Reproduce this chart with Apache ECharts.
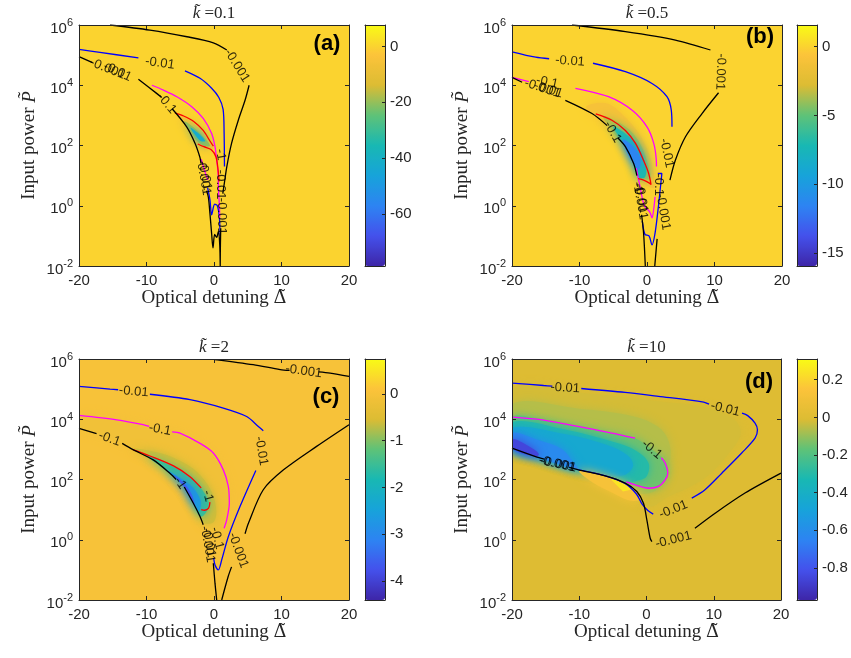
<!DOCTYPE html>
<html><head><meta charset="utf-8">
<style>html,body{margin:0;padding:0;background:#fff}#c{width:851px;height:658px}</style>
<script src="https://cdn.jsdelivr.net/npm/echarts@6/dist/echarts.min.js"></script>
</head><body><div id="c"></div>
<script>
// ---------- data (x = optical detuning, y = log10 of input power) ----------
const panelTitles = ['0.1', '0.5', '2', '10'];
const panelTags = ['(a)', '(b)', '(c)', '(d)'];

// colourbar ranges and ticks
const aBarRange = [-78.6, 7.7];  const aBarTicks = [-60, -40, -20, 0];
const bBarRange = [-15.96, 1.58]; const bBarTicks = [-15, -10, -5, 0];
const cBarRange = [-4.41, 0.75]; const cBarTicks = [-4, -3, -2, -1, 0];
const dBarRange = [-0.97, 0.31]; const dBarTicks = [-0.8, -0.6, -0.4, -0.2, 0, 0.2];

// ---- panel (a) ----
const aBlack = [[-15.4,6.0],[-9.5,5.83],[-4.0,5.61],[-0.1,5.41],[1.9,5.17], null,
  [5.2,4.0],[4.6,3.5],[3.6,2.84],[2.6,2.07],[1.9,1.3],[1.5,0.7],[1.3,0.4], null,
  [1.0,-0.75],[0.95,-1.3],[0.92,-2.0], null,
  [-20,4.95],[-18,4.75], null,
  [-11.2,4.2],[-8.5,3.73],[-7.8,3.6], null,
  [-6.2,3.22],[-4.05,2.62],[-2.8,2.07],[-2.1,1.62],[-1.9,1.4], null,
  [-1.1,0.5],[-0.84,0.29],[-0.6,-0.26],[-0.35,-0.93],[-0.15,-1.4],[0.1,-0.95],[0.4,-1.05],[0.65,-0.85],[0.85,-1.3],[0.92,-2.0]];
const aBlue = [[-20,5.19],[-16.9,5.09],[-11.2,4.91], null,
  [-4.3,4.48],[-2.07,4.23],[-0.35,3.9],[0.7,3.6],[1.35,3.2],[1.5,2.4],[1.55,1.3], null,
  [-0.95,0.6],[-0.6,0.2],[-0.35,-0.3],[0.1,0.05],[0.5,0.0],[0.8,-0.4],[0.9,-1.0]];
const aMagenta = [[-9.2,4.0],[-7.5,3.84],[-5.5,3.62],[-3.3,3.29],[-1.6,2.9],[-0.35,2.4],[0.15,1.96],[0.35,1.6],[0.6,1.1],[0.65,0.6],[0.8,0.0],[0.85,-0.4], null,
  [-1.9,1.55],[-1.3,1.1],[-0.9,0.85]];
const aRed = [[-5.8,3.08],[-4.5,2.98],[-3.0,2.8],[-1.6,2.5],[-0.6,2.15],[-0.1,1.98], null,
  [-2.4,2.05],[-1.5,1.96],[-0.4,1.86],[0.3,1.62],[0.6,1.2],[0.75,0.8]];
const aLabels = [[3.4,4.65,'-0.001',-58],[-8.0,4.73,'-0.01',-8],[-15.8,4.55,'-0.001',-22],[-14.3,4.45,'-0.01',-25],
  [-7.0,3.4,'-0.1',-50],[-1.55,0.95,'-0.001',-80],[-1.35,1.0,'-0.01',-80],[0.95,1.7,'-1',-80],
  [1.0,0.7,'-0.01',-90],[1.1,-0.35,'-0.001',-90]];
const aFillLevels = [0, -4, -20, -42];
const aFillShapes = [
  [[-20,-2],[20,-2],[20,6],[-20,6]],
  [[-5.6,3.05],[-3.6,2.82],[-2.0,2.5],[-0.8,2.15],[-0.1,1.92],[-1.2,1.85],[-2.4,1.98],[-3.4,2.35],[-4.4,2.72]],
  [[-4.4,2.8],[-3.0,2.6],[-1.6,2.3],[-0.6,2.0],[-1.4,1.98],[-2.5,2.15],[-3.4,2.45]],
  [[-3.5,2.6],[-2.4,2.42],[-1.3,2.15],[-2.0,2.15],[-2.9,2.38]]];

// ---- panel (b) ----
const bBlack = [[-11.1,6.0],[-3.2,5.78],[4.2,5.5],[9.4,5.17], null,
  [10.6,3.75],[8.15,3.06],[5.7,2.29],[4.2,1.51],[3.4,0.85], null,
  [1.5,-1.1],[1.15,-2.0], null,
  [-20,4.26],[-18.5,4.1], null,
  [-12.1,3.5],[-8.15,3.06],[-5.9,2.66], null,
  [-4.3,2.25],[-3.2,1.96],[-1.98,1.4],[-1.5,1.0], null,
  [-0.8,-0.3],[-0.5,-0.93],[-0.25,-2.0]];
const bBlue = [[-20,5.11],[-16.5,4.93],[-14.5,4.88], null,
  [-8.0,4.73],[-3.2,4.45],[0.74,4.06],[2.96,3.62],[3.6,3.17],[3.7,2.62], null,
  [-0.7,-0.5],[-0.3,-0.95],[0.3,-1.0],[0.74,-1.3],[1.2,-0.9],[1.7,0.0],[2.2,1.07],[1.6,1.07]];
const bMagenta = [[-20,4.26],[-17.5,4.12], null,
  [-10.6,3.9],[-5.7,3.62],[-2.2,3.17],[0.0,2.62],[1.0,2.07],[1.38,1.51],[1.4,1.3], null,
  [-1.6,1.25],[-1.0,0.6],[-0.4,0.0],[0.4,-0.2],[0.75,-0.4],[1.0,-0.1],[1.2,0.3]];
const bRed = [[-7.6,3.05],[-5.2,2.84],[-3.2,2.5],[-1.7,2.07],[-0.5,1.5],[0.25,1.07],[0.6,0.7],[0.3,0.76],[-0.5,0.85],[-1.3,0.9]];
const bLabels = [[10.9,4.45,'-0.001',-92],[-11.4,4.8,'-0.01',-4],[-14.8,4.1,'-0.1',-12],[-15.5,3.9,'-0.001',-18],
  [-14.6,3.85,'-0.01',-18],[-5.1,2.45,'-0.1',-60],[2.9,1.75,'-0.01',-78],[1.75,0.7,'-0.1',-90],
  [-1.35,0.6,'-1',-80],[-1.0,0.15,'-0.001',-80],[-0.85,0.25,'-0.01',-80],[2.4,-0.2,'-0.001',-80]];
const bFillLevels = [0, -1, -3.5, -7, -11.5];
const bFillShapes = [
  [[-20,-2],[20,-2],[20,6],[-20,6]],
  [[-9,3.3],[-6,3.4],[-3.5,3.0],[-1.5,2.5],[0.0,1.9],[0.9,1.2],[1.1,0.6],[0.6,0.6],[-0.6,0.75],[-1.4,0.9],[-2.0,1.4],[-3.2,1.96],[-5.2,2.51],[-8.15,3.06]],
  [[-6.5,2.98],[-4.5,2.8],[-2.6,2.52],[-1.0,2.05],[0.1,1.4],[0.5,0.9],[-0.6,0.9],[-1.3,0.95],[-1.98,1.4],[-3.2,1.96],[-5.2,2.51]],
  [[-5.0,2.62],[-3.0,2.36],[-1.3,1.95],[-0.2,1.35],[-0.3,0.95],[-1.3,0.95],[-1.98,1.4],[-3.2,1.96]],
  [[-3.6,2.2],[-2.2,2.0],[-1.0,1.6],[-1.2,1.2],[-2.0,1.4],[-2.9,1.75]]];

// ---- panel (c) ----
const cBlack = [[0.15,5.98],[5.8,5.81],[9.8,5.65],[11.2,5.62], null,
  [15.5,5.57],[17.2,5.53],[20,5.42], null,
  [20,3.82],[15.2,3.1],[10.3,2.32],[7.3,1.66],[5.1,0.55],[4.6,0.2], null,
  [2.6,-0.9],[2.1,-1.22],[1.14,-2.0], null,
  [-20,3.7],[-17.4,3.52], null,
  [-13.6,3.2],[-12,2.99],[-9,2.65],[-6.5,2.2],[-5.6,2.0], null,
  [-4.4,1.75],[-3.06,1.21],[-2.07,0.77],[-1.6,0.5], null,
  [-0.1,-0.78],[0.15,-1.45],[0.4,-2.0]];
const cBlue = [[-20,5.09],[-15.4,5.0],[-14.2,4.98], null,
  [-9.5,4.83],[-3.56,4.65],[1.38,4.37],[4.84,4.09],[6.57,3.76],[7.3,3.62], null,
  [6.2,2.3],[3.85,1.1],[2.12,0.1],[1.14,-0.67],[0.64,-1.0],[0.15,-0.84],[-0.05,-0.6]];
const cMagenta = [[-20,4.13],[-14.4,3.98],[-10.5,3.82],[-9.6,3.76], null,
  [-6.2,3.58],[-5.04,3.54],[-2.07,3.2],[-0.1,2.88],[1.38,2.32],[2.12,1.77],[2.27,1.21],[1.88,0.66],[1.5,0.38]];
const cRed = [[-12,2.99],[-9.5,2.78],[-6.0,2.45],[-3.6,2.1],[-1.9,1.72], null,
  [-0.6,1.25],[-0.8,1.05],[-1.4,0.98],[-1.9,1.0]];
const cLabels = [[13.3,5.6,'-0.001',-8],[-11.9,4.92,'-0.01',-5],[-8.0,3.66,'-0.1',-10],[-15.5,3.35,'-0.1',-20],
  [-5.0,1.88,'-1',-55],[7.0,2.95,'-0.01',-80],[3.6,-0.35,'-0.001',-70],[-0.9,1.45,'-1',-75],
  [0.45,0.05,'-0.1',-75],[-0.95,-0.15,'-0.001',-80],[-0.75,-0.1,'-0.01',-80]];
const cFillLevels = [0, -0.12, -0.6, -1.5, -2.6, -3.6];
const cFillShapes = [
  [[-20,-2],[20,-2],[20,6],[-20,6]],
  [[-20,4.13],[-14.4,3.98],[-10.5,3.82],[-5.0,3.54],[-2.1,3.2],[-0.1,2.88],[1.38,2.32],[2.12,1.77],[2.27,1.21],[1.9,0.66],[1.5,0.38],[0.5,0.3],[-1.6,0.55],[-2.07,0.77],[-3.06,1.21],[-4.5,1.77],[-6.5,2.2],[-9,2.65],[-12,2.99],[-16.9,3.48],[-20,3.7]],
  [[-12,3.02],[-8,2.88],[-5,2.62],[-2.5,2.25],[-0.6,1.7],[0.3,1.1],[0.0,0.6],[-1.6,0.55],[-2.07,0.77],[-3.06,1.21],[-4.5,1.77],[-6.5,2.2],[-9,2.65]],
  [[-10,2.8],[-6,2.42],[-3.6,2.08],[-1.9,1.7],[-0.8,1.25],[-1.2,0.9],[-2.07,0.77],[-3.06,1.21],[-4.5,1.77],[-6.5,2.2]],
  [[-7,2.3],[-5,2.05],[-3.2,1.75],[-2.0,1.3],[-2.2,0.95],[-3.06,1.21],[-4.5,1.77]],
  [[-6,2.15],[-4.5,1.9],[-3.3,1.5],[-2.8,1.1],[-3.06,1.21],[-4.5,1.77]]];

// ---- panel (d) ----
const dBlack = [[-20,3.04],[-16.5,2.76],[-15.2,2.68], null,
  [-11.5,2.4],[-10.1,2.32],[-6.14,2.12],[-3.17,1.88],[-1.44,1.6],[-0.45,1.21],[0.05,0.66],[0.55,0.05],[0.8,-0.06], null,
  [7.2,0.38],[10.2,0.88],[14.65,1.55],[20,2.21]];
const dBlue = [[-20,5.2],[-15.3,5.12],[-14.0,5.1], null,
  [-9.7,5.02],[-3.17,4.89],[1.78,4.76],[8.5,4.57],[9.3,4.5], null,
  [14.2,4.2],[15.05,4.12],[16.14,3.87],[16.5,3.65],[16.14,3.37],[14.16,2.88],[11.2,2.21],[8.7,1.66],[6.73,1.38], null,
  [1.0,0.85],[0.2,0.97],[-0.7,1.2],[-1.5,1.52],[-3.2,1.87],[-6.1,2.12],[-10.1,2.32]];
const dMagenta = [[-20,4.07],[-15.5,3.98],[-10.6,3.78],[-5.15,3.54],[-1.7,3.37], null,
  [2.2,2.72],[2.77,2.55],[3.17,2.21],[2.77,1.99],[1.78,1.77],[0.3,1.71],[-1.68,1.82],[-3.0,1.92]];
const dRed = [];
const dLabels = [[-12.1,5.04,'-0.01',-3],[11.7,4.34,'-0.01',-14],[0.8,3.0,'-0.1',-40],[4.0,1.0,'-0.01',22],
  [4.0,0.0,'-0.001',14],[-13.3,2.52,'-0.001',-12],[-13.1,2.5,'-0.001',-12]];
const dFillLevels = [0, -0.02, -0.06, -0.15, -0.3, -0.45, -0.62, -0.85, 0.12, 0.25];
const dFillShapes = [
  [[-20,-2],[20,-2],[20,6],[-20,6]],
  [[-20,5.0],[-8.4,4.85],[1.8,4.6],[8.5,4.4],[13,4.0],[14,3.5],[12,2.8],[9,2.1],[6,1.7],[3,1.4],[0.8,1.1],[-0.7,1.2],[-1.7,1.45],[-3.2,1.71],[-6.1,2.12],[-10.1,2.32],[-16.5,2.76],[-20,3.04]],
  [[-20,4.5],[-10,4.35],[-2,4.1],[2,3.7],[3.5,3.1],[3.2,2.3],[2,1.75],[0.5,1.55],[-1.7,1.55],[-3.2,1.75],[-6.1,2.12],[-10.1,2.32],[-16.5,2.76],[-20,3.04]],
  [[-20,4.07],[-15.5,3.98],[-10.6,3.78],[-5.15,3.54],[-1.7,3.37],[0.8,3.0],[2.77,2.6],[3.17,2.21],[2.77,1.99],[1.78,1.77],[0.3,1.71],[-1.68,1.82],[-3.17,1.88],[-6.14,2.12],[-10.1,2.32],[-16.5,2.76],[-20,3.04]],
  [[-20,3.9],[-12,3.65],[-5,3.25],[-1.5,2.95],[0.3,2.55],[0.0,2.1],[-1.5,1.95],[-3.17,1.88],[-6.14,2.12],[-10.1,2.32],[-16.5,2.76],[-20,3.04]],
  [[-20,3.72],[-12,3.5],[-6,3.15],[-2.8,2.8],[-2.0,2.45],[-3.3,2.15],[-6.14,2.12],[-10.1,2.32],[-16.5,2.76],[-20,3.04]],
  [[-20,3.55],[-16,3.3],[-12.5,3.0],[-11,2.6],[-10.1,2.32],[-16.5,2.76],[-20,3.04]],
  [[-20,3.35],[-17.5,3.1],[-16,2.85],[-16.5,2.76],[-20,3.04]],
  [[-10,2.28],[-6.1,2.1],[-3.2,1.86],[-1.44,1.58],[-0.8,1.35],[-2.5,1.3],[-5,1.55],[-8,1.9]],
  [[-5.5,2.05],[-3.2,1.84],[-2.0,1.68],[-3.5,1.6]]];

// ---------- styling / layout ----------
const parula = ['#3E26A8','#4451EC','#2D84F2','#17A3DA','#18B8B3','#5EC278','#DCBC33','#FCC33A','#F9FB15'];
const axisColor = '#262626';
const sans = 'Liberation Sans, Arial, sans-serif';
const serif = 'Liberation Serif, Times New Roman, serif';
const markSerif = 'DejaVu Serif, serif';

const panels = [
  {grid:[79,25,270,241], cb:[365,25], black:aBlack, blue:aBlue, magenta:aMagenta, red:aRed, labels:aLabels, levels:aFillLevels, shapes:aFillShapes, range:aBarRange, ticks:aBarTicks, tagPos:[327,44]},
  {grid:[512,25,270,241], cb:[797,25], black:bBlack, blue:bBlue, magenta:bMagenta, red:bRed, labels:bLabels, levels:bFillLevels, shapes:bFillShapes, range:bBarRange, ticks:bBarTicks, tagPos:[760,37]},
  {grid:[79,359,270,241], cb:[365,359], black:cBlack, blue:cBlue, magenta:cMagenta, red:cRed, labels:cLabels, levels:cFillLevels, shapes:cFillShapes, range:cBarRange, ticks:cBarTicks, tagPos:[326,397]},
  {grid:[512,359,269,241], cb:[797,359], black:dBlack, blue:dBlue, magenta:dMagenta, red:dRed, labels:dLabels, levels:dFillLevels, shapes:dFillShapes, range:dBarRange, ticks:dBarTicks, tagPos:[759,382]}
];

function lineData(arr){ return arr.map(p => p === null ? ['-','-'] : p); }
function fillRenderer(shapes){
  return function(params, api){
    const shape = shapes[api.value(0)];
    const pts = shape.map(p => api.coord(p));
    const c = api.visual('color');
    const soft = shape.length > 4;
    return {type:'polygon', shape:{points:pts, smooth: soft ? 0.35 : 0},
      style:{fill:c, shadowBlur: soft ? 10 : 0, shadowColor:c}};
  };
}

const grid = [], xAxis = [], yAxis = [], series = [], visualMap = [], graphic = [];
const lineSt = {show:true, onZero:false, lineStyle:{color:axisColor, width:1}};

panels.forEach((p, i) => {
  const [l,t,w,h] = p.grid;
  grid.push({left:l, top:t, width:w, height:h, show:false});
  xAxis.push({gridIndex:i, type:'value', min:-20, max:20, interval:10, position:'bottom', z:10,
    axisLine:lineSt, axisTick:{inside:true, length:4, lineStyle:{color:axisColor}},
    axisLabel:{fontSize:15, color:axisColor, fontFamily:sans, margin:7}, splitLine:{show:false},
    name:'Optical detuning {d|Δ̃}', nameLocation:'middle', nameGap:22,
    nameTextStyle:{fontFamily:serif, fontSize:19, color:axisColor, verticalAlign:'top',
      rich:{d:{fontFamily:markSerif, fontSize:18, color:axisColor}}}});
  xAxis.push({gridIndex:i, type:'value', min:-20, max:20, interval:10, position:'top', z:10,
    axisLine:lineSt, axisTick:{inside:true, length:4, lineStyle:{color:axisColor}}, axisLabel:{show:false}, splitLine:{show:false}});
  yAxis.push({gridIndex:i, type:'value', min:-2, max:6, interval:2, position:'left', z:10,
    axisLine:lineSt, axisTick:{inside:true, length:4, lineStyle:{color:axisColor}},
    axisLabel:{margin:6, color:axisColor, formatter: v => '{b|10}{s|' + v + '}',
      rich:{b:{fontSize:15, fontFamily:sans, color:axisColor, padding:[7,0,0,0]}, s:{fontSize:11, fontFamily:sans, color:axisColor, padding:[0,0,5,0]}}},
    splitLine:{show:false},
    name:'Input power {i|P̃}', nameLocation:'middle', nameGap:40,
    nameTextStyle:{fontFamily:serif, fontSize:19, color:axisColor, rich:{i:{fontFamily:serif, fontSize:19, fontStyle:'italic', color:axisColor}}}});
  yAxis.push({gridIndex:i, type:'value', min:-2, max:6, interval:2, position:'right', z:10,
    axisLine:lineSt, axisTick:{inside:true, length:4, lineStyle:{color:axisColor}}, axisLabel:{show:false}, splitLine:{show:false}});

  const fillIdx = series.length;
  series.push({type:'custom', xAxisIndex:2*i, yAxisIndex:2*i, clip:true, silent:true, z:1,
    renderItem: fillRenderer(p.shapes), data: p.levels.map((lv, k) => [k, lv]), encode:{x:-1, y:-1}});
  [['blue','#0000FF'],['magenta','#FF00FF'],['red','#FF0000'],['black','#000000']].forEach(([k, col]) => {
    if (!p[k].length) return;
    series.push({type:'line', xAxisIndex:2*i, yAxisIndex:2*i, data: lineData(p[k]), showSymbol:false, symbol:'none',
      smooth:0.3, silent:true, z:3, clip:true, connectNulls:false, lineStyle:{color:col, width:1.3}});
  });
  series.push({type:'scatter', xAxisIndex:2*i, yAxisIndex:2*i, symbolSize:1, silent:true, z:5,
    itemStyle:{color:'rgba(0,0,0,0)'},
    label:{show:true, position:'inside', formatter:'{b}', fontSize:13, fontFamily:sans, color:'#000'},
    data: p.labels.map(q => ({value:[q[0], q[1]], name:q[2], label:{rotate:q[3]}}))});

  visualMap.push({type:'continuous', seriesIndex:fillIdx, dimension:1, min:p.range[0], max:p.range[1],
    inRange:{color:parula}, calculable:false, itemWidth:20, itemHeight:241, left:p.cb[0], top:p.cb[1],
    padding:0, text:null, show:true, hoverLink:false, orient:'vertical', z:2});

  graphic.push({type:'text', x:l + w/2, y:t - 11, z:20,
    style:{text:'{i|k̃} =' + panelTitles[i], fontFamily:serif, fontSize:17, fill:axisColor, align:'center', verticalAlign:'middle',
      rich:{i:{fontFamily:serif, fontSize:17, fontStyle:'italic', fill:axisColor}}}});
  graphic.push({type:'text', x:p.tagPos[0], y:p.tagPos[1], z:20,
    style:{text:panelTags[i], fontFamily:sans, fontWeight:'bold', fontSize:22, fill:'#000', align:'center', verticalAlign:'middle'}});
});

panels.forEach((p, j) => {
  const gi = 4 + j;
  grid.push({left:p.cb[0], top:p.cb[1], width:20, height:241, show:false});
  xAxis.push({gridIndex:gi, type:'value', min:0, max:1, position:'bottom', z:10, axisLine:lineSt, axisTick:{show:false}, axisLabel:{show:false}, splitLine:{show:false}});
  xAxis.push({gridIndex:gi, type:'value', min:0, max:1, position:'top', z:10, axisLine:lineSt, axisTick:{show:false}, axisLabel:{show:false}, splitLine:{show:false}});
  yAxis.push({gridIndex:gi, type:'value', min:p.range[0], max:p.range[1], position:'right', z:10, axisLine:lineSt,
    axisTick:{inside:true, length:3, lineStyle:{color:axisColor}, customValues:p.ticks},
    axisLabel:{fontSize:15, color:axisColor, fontFamily:sans, margin:5, customValues:p.ticks}, splitLine:{show:false}});
  yAxis.push({gridIndex:gi, type:'value', min:p.range[0], max:p.range[1], position:'left', z:10, axisLine:lineSt,
    axisTick:{show:false}, axisLabel:{show:false}, splitLine:{show:false}});
});

const chart = echarts.init(document.getElementById('c'), null, {renderer:'canvas', width:851, height:658});
chart.setOption({backgroundColor:'#ffffff', animation:false, grid, xAxis, yAxis, series, visualMap, graphic});
</script></body></html>
